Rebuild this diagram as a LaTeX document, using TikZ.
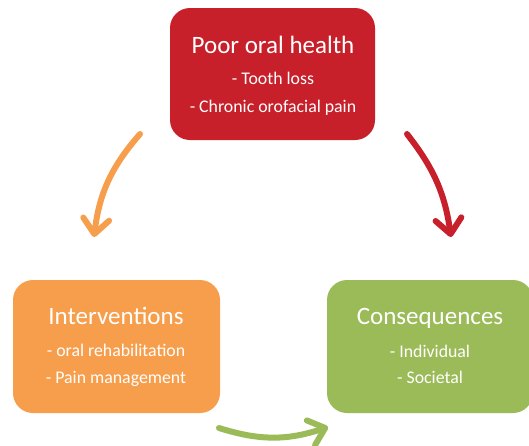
\documentclass[tikz,border=0pt]{standalone}
\usepackage{fontspec}
\setmainfont{Carlito}
\usetikzlibrary{arrows.meta}
\definecolor{boxred}{HTML}{C8202A}
\definecolor{boxorange}{HTML}{F79E4C}
\definecolor{boxgreen}{HTML}{9BBB59}
\tikzset{
  box/.style={rounded corners=20pt, inner sep=0pt, minimum width=205pt, minimum height=132pt, draw=none},
  titletext/.style={anchor=base, inner sep=0pt, text=white, font=\fontsize{25}{30}\selectfont},
  itemtext/.style={anchor=base, inner sep=0pt, text=white, font=\fontsize{17.8}{22}\selectfont},
  flow/.style={line width=6pt, line cap=round, -{Straight Barb[round, length=15pt, width=26pt]}}
}
\begin{document}
\begin{tikzpicture}[x=1pt,y=-1pt]
\useasboundingbox (0,0) rectangle (529,445);
% boxes
\node[box, fill=boxred] (poor) at (272.5,74) {};
\node[box, fill=boxorange, minimum width=207pt, minimum height=133pt] (interv) at (116.5,346.5) {};
\node[box, fill=boxgreen, minimum width=206pt, minimum height=133pt] (conseq) at (430,346.5) {};
% texts
\node[titletext] (poort) at (273,53) {Poor oral health};
\node[itemtext] (poor1) at (273,84) {- Tooth loss};
\node[itemtext] (poor2) at (273,112) {- Chronic orofacial pain};
\node[titletext] (intt) at (116,324) {Interventions};
\node[itemtext] (int1) at (116,356) {- oral rehabilitation};
\node[itemtext] (int2) at (116,383) {- Pain management};
\node[titletext] (cont) at (430,324) {Consequences};
\node[itemtext] (con1) at (430,357) {- Individual};
\node[itemtext] (con2) at (430,383) {- Societal};
% arrow end points
\coordinate (oa) at (140,134);
\coordinate (ob) at (94,237);
\coordinate (ra) at (407,134);
\coordinate (rb) at (451,237);
\coordinate (ga) at (219,428);
\coordinate (gb) at (328,427);
\draw[flow, draw=boxorange] (oa) to[bend right=17] (ob);
\draw[flow, draw=boxred] (ra) to[bend left=15] (rb);
\draw[flow, draw=boxgreen] (ga) to[bend right=18] (gb);
\end{tikzpicture}
\end{document}
